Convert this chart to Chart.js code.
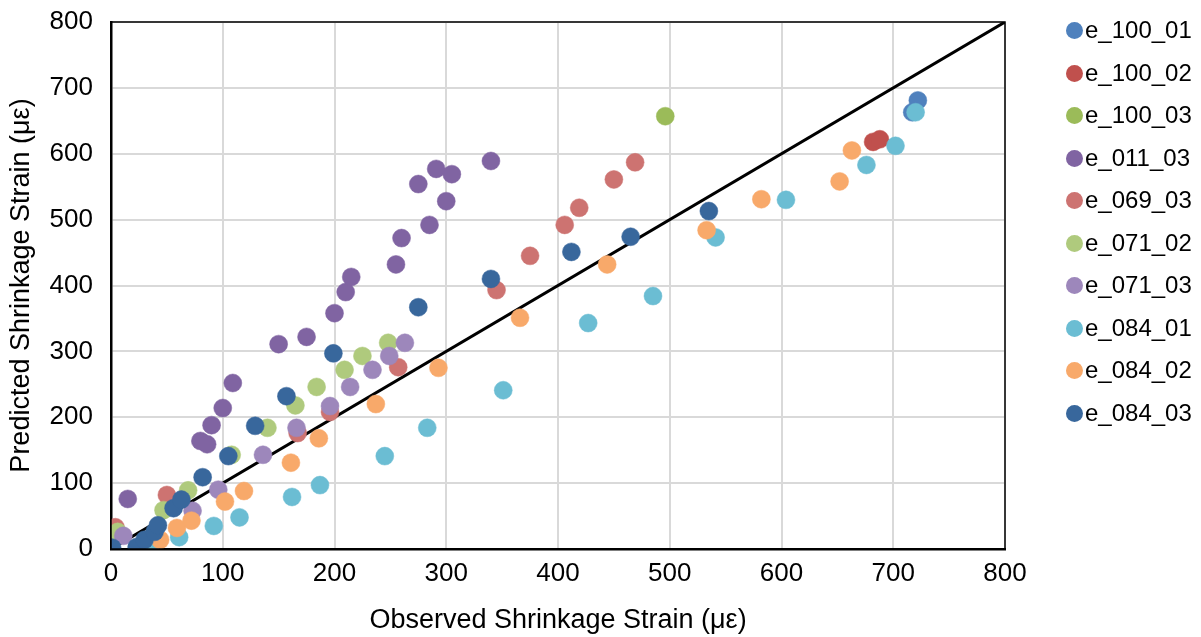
<!DOCTYPE html>
<html>
<head>
<meta charset="utf-8">
<script src="https://cdn.jsdelivr.net/npm/chart.js@4"></script>
<style>
  body { margin: 0; background: #fff; }
  #wrap { position: relative; width: 1201px; height: 637px; }
  #legend { position: absolute; left: 1066px; top: 9px; font-family: "Liberation Sans", Arial, sans-serif; font-size: 24px; color: #000; }
  #legend div { height: 42.5px; line-height: 42.5px; white-space: nowrap; }
  #legend span { display: inline-block; width: 17px; height: 17px; border-radius: 50%; margin-right: 2px; vertical-align: -1px; }
</style>
</head>
<body>
<div id="wrap">
  <canvas id="strain-graph" width="1201" height="637"></canvas>
  <div id="legend"></div>
</div>
<script>
// observed / predicted shrinkage strain (µε)
const seriesNames = ["e_100_01", "e_100_02", "e_100_03", "e_011_03", "e_069_03",
                     "e_071_02", "e_071_03", "e_084_01", "e_084_02", "e_084_03"];

const e_100_01 = [[717, 663], [722, 681]];
const e_100_02 = [[682, 618], [688, 622]];
const e_100_03 = [[496, 657]];
const e_011_03 = [[15, 76], [80, 164], [86, 159], [90, 188], [100, 214], [109, 252], [150, 311],
                  [175, 322], [200, 358], [210, 390], [215, 413], [255, 432], [260, 472], [275, 554],
                  [285, 492], [291, 577], [300, 528], [305, 569], [340, 589]];
const e_069_03 = [[1, 17], [4, 33], [50, 82], [167, 176], [196, 208], [257, 276], [345, 393],
                  [375, 445], [406, 492], [419, 518], [450, 561], [469, 587]];
const e_071_02 = [[6, 26], [47, 59], [69, 89], [108, 143], [140, 184], [165, 218], [184, 246],
                  [209, 272], [225, 293], [248, 313]];
const e_071_03 = [[11, 20], [73, 58], [96, 90], [136, 143], [166, 184], [196, 217], [214, 246],
                  [234, 272], [249, 293], [263, 313]];
const e_084_01 = [[35, 3], [61, 18], [92, 35], [115, 48], [162, 79], [187, 97], [245, 141],
                  [283, 184], [351, 241], [427, 343], [485, 384], [541, 473], [604, 530],
                  [676, 583], [702, 612], [720, 663]];
const e_084_02 = [[44, 14], [59, 32], [72, 43], [102, 72], [119, 88], [161, 131], [186, 168],
                  [237, 220], [293, 275], [366, 351], [444, 432], [533, 484], [582, 531],
                  [652, 558], [663, 605]];
const e_084_03 = [[1, 2], [23, 3], [30, 14], [39, 26], [42, 36], [56, 62], [63, 75], [82, 109],
                  [105, 141], [129, 187], [157, 232], [199, 297], [275, 367], [340, 410],
                  [412, 451], [465, 474], [535, 513]];

const seriesData = [e_100_01, e_100_02, e_100_03, e_011_03, e_069_03,
                    e_071_02, e_071_03, e_084_01, e_084_02, e_084_03];

// line of equality
const equalityLine = [[0, 0], [800, 800]];

const axisTicks = [0, 100, 200, 300, 400, 500, 600, 700, 800];

const seriesColors = ["#4F81BD", "#C0504D", "#9BBB59", "#8064A2", "#CD7371",
                      "#AFCA7D", "#9D87BB", "#6BBDD3", "#F8A96A", "#38679C"];

const FONT = "'Liberation Sans', Arial, sans-serif";

let datasets = seriesData.map((pts, i) => ({
    label: seriesNames[i],
    data: pts.map(p => ({x: p[0], y: p[1]})),
    backgroundColor: seriesColors[i],
    borderColor: seriesColors[i],
    pointRadius: 9,
    pointBorderWidth: 0.5,
    order: seriesData.length - i
}));

datasets.push({
    label: "equality",
    type: "line",
    data: equalityLine.map(p => ({x: p[0], y: p[1]})),
    borderColor: "#000",
    borderWidth: 3,
    pointRadius: 0,
    fill: false,
    order: 100
});

const frame = {
    id: "frame",
    afterDraw(chart) {
        const a = chart.chartArea, ctx = chart.ctx;
        ctx.save();
        ctx.strokeStyle = "#000";
        ctx.lineWidth = 1.5;
        ctx.strokeRect(a.left, a.top, a.right - a.left, a.bottom - a.top);
        ctx.restore();
    }
};

new Chart("strain-graph", {
    type: "scatter",
    data: { datasets: datasets },
    plugins: [frame],
    options: {
        responsive: false,
        devicePixelRatio: 1,
        animation: false,
        layout: { padding: { left: 0, top: 22, right: 196, bottom: 0 } },
        plugins: {
            legend: { display: false },
            tooltip: { enabled: false }
        },
        scales: {
            x: {
                type: "linear",
                min: 0, max: 800,
                afterBuildTicks: s => { s.ticks = axisTicks.map(v => ({value: v})); },
                afterFit: s => { s.height = 88; s.paddingLeft = 0; s.paddingRight = 0; },
                ticks: { color: "#000", font: { family: FONT, size: 26 }, padding: 9 },
                grid: { color: "#D9D9D9", lineWidth: 2, drawTicks: false },
                border: { color: "#000", width: 2.5 },
                title: {
                    display: true,
                    text: "Observed Shrinkage Strain (με)",
                    color: "#000",
                    font: { family: FONT, size: 27 },
                    padding: { top: 0, bottom: 0 }
                }
            },
            y: {
                type: "linear",
                min: 0, max: 800,
                afterBuildTicks: s => { s.ticks = axisTicks.map(v => ({value: v})); },
                afterFit: s => { s.width = 111; s.paddingTop = 0; s.paddingBottom = 0; },
                ticks: { color: "#000", font: { family: FONT, size: 26 }, padding: 18 },
                grid: { color: "#D9D9D9", lineWidth: 2, drawTicks: false },
                border: { color: "#000", width: 2.5 },
                title: {
                    display: true,
                    text: "Predicted Shrinkage Strain (με)",
                    color: "#000",
                    font: { family: FONT, size: 27 },
                    padding: { top: 5, bottom: 0 }
                }
            }
        }
    }
});

// legend on the right
const legend = document.getElementById("legend");
seriesNames.forEach((name, i) => {
    const row = document.createElement("div");
    const dot = document.createElement("span");
    dot.style.background = seriesColors[i];
    row.appendChild(dot);
    row.appendChild(document.createTextNode(name));
    legend.appendChild(row);
});
</script>
</body>
</html>
